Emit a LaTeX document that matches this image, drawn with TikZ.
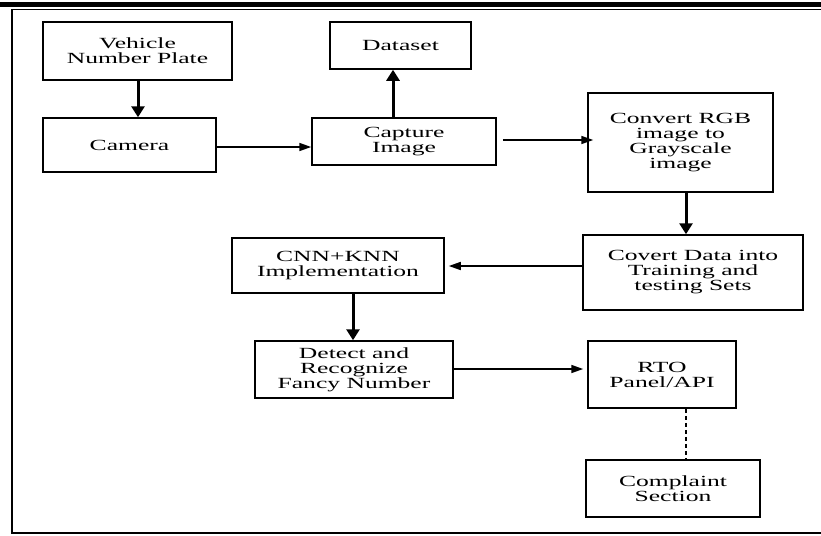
\documentclass[tikz,border=0pt]{standalone}
\usepackage{fontspec}
\setmainfont{Liberation Serif}
\newfontfamily\widefont[FakeStretch=1.65]{Liberation Serif}
\usetikzlibrary{arrows.meta,calc}
\begin{document}
\begin{tikzpicture}[x=1pt,y=-1pt,
  box/.style={draw, line width=1.5pt, align=center, inner sep=0pt,
    font=\widefont\fontsize{15.5}{15}\selectfont},
  thinarr/.style={line width=1.6pt, -{Triangle[length=12pt,width=8pt]}},
  thickarr/.style={line width=3pt, -{Triangle[length=11pt,width=13pt]}},
  dashline/.style={line width=1.5pt, dash pattern=on 4pt off 3pt}]
\useasboundingbox (0,0) rectangle (821,535);
% page rules and frame
\fill (0,2) rectangle (821,7);
\draw[line width=1.8pt] (821,9.5) -| (12,533) -- (821,533);
% boxes
\node[box, minimum width=189pt, minimum height=58pt] (veh) at (137.5,51) {Vehicle\\Number Plate};
\node[box, minimum width=173pt, minimum height=54pt] (cam) at (129.5,145) {Camera};
\node[box, minimum width=141pt, minimum height=47pt] (ds) at (400.5,45.5) {Dataset};
\node[box, minimum width=184pt, minimum height=47pt] (cap) at (404,141.5) {Capture\\Image};
\node[box, minimum width=185pt, minimum height=99pt] (conv) at (680.5,142.5) {Convert RGB\\image to\\Grayscale\\image};
\node[box, minimum width=220pt, minimum height=75pt] (cov) at (693,272.5) {Covert Data into\\Training and\\testing Sets};
\node[box, minimum width=212pt, minimum height=55pt] (cnn) at (338,265.5) {CNN+KNN\\Implementation};
\node[box, minimum width=198pt, minimum height=57pt] (det) at (354,369.5) {Detect and\\Recognize\\Fancy Number};
\node[box, minimum width=148pt, minimum height=67pt] (rto) at (662,374.5) {RTO\\Panel/API};
\node[box, minimum width=174pt, minimum height=57pt] (cmp) at (673,488.5) {Complaint\\Section};
% connectors
\coordinate (a1) at ([xshift=0.5pt]veh.south);
\draw[thickarr] (a1) -- (a1 |- cam.north);
\draw[thinarr] ([yshift=-2pt]cam.east) -- ([yshift=-2pt]cam.east -| cap.west);
\coordinate (a3) at ([xshift=-11pt]cap.north);
\draw[thickarr] (a3) -- (a3 |- ds.south);
\draw[thinarr] ([xshift=6pt,yshift=1.5pt]cap.east) -- ([xshift=6pt,yshift=1.5pt]cap.east -| conv.west);
\coordinate (a5) at ([xshift=5.5pt]conv.south);
\draw[thickarr] (a5) -- (a5 |- cov.north);
\coordinate (a6) at ([xshift=4pt,yshift=-0.5pt]cnn.east);
\draw[thinarr] (a6 -| cov.west) -- (a6);
\coordinate (a7) at ([xshift=-1pt]det.north);
\draw[thickarr] (a7 |- cnn.south) -- (a7);
\coordinate (a8) at ([xshift=-4pt]rto.west);
\draw[thinarr] ([yshift=0.5pt]det.east) -- ([yshift=0.5pt]det.east -| a8);
\coordinate (a9) at ([xshift=24pt]rto.south);
\draw[dashline] (a9) -- (a9 |- cmp.north);
\end{tikzpicture}
\end{document}
